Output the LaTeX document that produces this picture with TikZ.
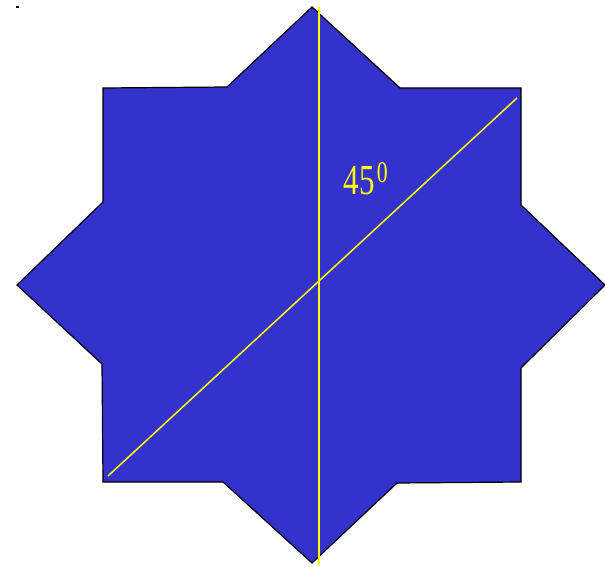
\documentclass[tikz,border=0pt]{standalone}
\usepackage{fontspec}
\setmainfont{Liberation Serif}
\usetikzlibrary{positioning}
\definecolor{starblue}{RGB}{51,51,204}
\definecolor{lineyellow}{RGB}{255,255,0}

\begin{document}
\begin{tikzpicture}[x=1pt, y=-1pt,
    star/.style={draw=black, line width=1.2pt, fill=starblue, line join=miter},
    axis/.style={draw=lineyellow, line width=1.5pt},
    angle/.style={text=lineyellow, inner sep=0pt, font=\fontsize{31}{31}\selectfont, yscale=1.38}]
\useasboundingbox (0,0) rectangle (605,567);
% stray mark
\fill (16,6) rectangle (19,8);
% eight-pointed star
\draw[star] (103,88) -- (227,87) -- (312,7) -- (400,88) -- (521,88) -- (521,205)
    -- (605,285) -- (521,368) -- (521,482) -- (397,483) -- (312,563) -- (223,482)
    -- (103,482) -- (102,364) -- (17,285) -- (103,202) -- cycle;
% axes
\coordinate (t) at (319,7);
\coordinate (b) at (319,565);
\coordinate (dl) at (108,476);
\coordinate (dr) at (517,98);
\draw[axis] (t) -- (b);
\draw[axis] (dl) -- (dr);
\node[angle] (a) at (366,179) {45\kern2pt\textsuperscript{0}};
\end{tikzpicture}
\end{document}
